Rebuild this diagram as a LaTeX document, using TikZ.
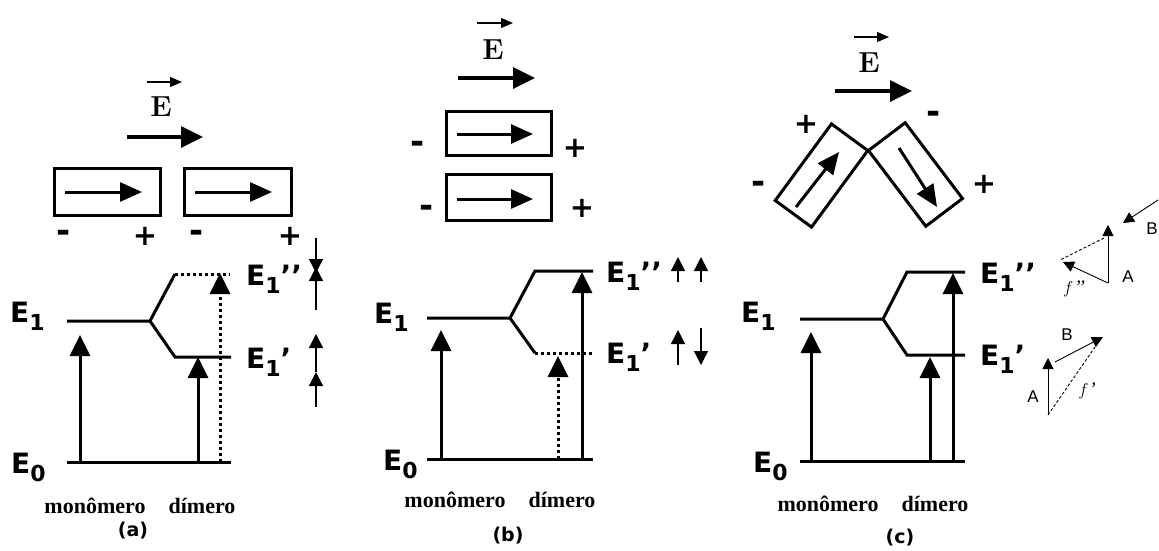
\documentclass[tikz,border=0pt]{standalone}
\usepackage{fontspec}
\newfontfamily\dvs{DejaVu Sans}
\newfontfamily\lsr{Liberation Serif}
\newfontfamily\lss{Liberation Sans}
\usetikzlibrary{arrows.meta}
\newcommand\lvlE[2]{{\dvs\bfseries\fontsize{28}{28}\selectfont E\raisebox{-8pt}{\fontsize{22}{22}\selectfont #1}#2}}
\begin{document}
\begin{tikzpicture}[x=1pt,y=-1pt,
 lvl/.style={line width=3pt},
 dotlvl/.style={line width=3pt,dash pattern=on 3pt off 3pt},
 stem/.style={line width=3pt,-{Triangle[length=21pt,width=20pt]}},
 dotstem/.style={stem,dash pattern=on 3pt off 3pt},
 fieldarr/.style={line width=3.5pt,-{Triangle[length=22pt,width=21pt]}},
 inarr/.style={line width=3pt,-{Triangle[length=22pt,width=19pt]}},
 vecarr/.style={line width=1.2pt,-{Triangle[length=12pt,width=10pt]}},
 spin/.style={line width=1.3pt,-{Triangle[length=14pt,width=14pt]}},
 thinarr/.style={line width=0.9pt,-{Triangle[length=11pt,width=11pt]}},
 dashln/.style={line width=0.9pt,dash pattern=on 3pt off 2pt},
 dipbox/.style={draw,line width=3pt,inner sep=0pt},
 elab/.style={inner sep=0pt,anchor=base west},
 chgp/.style={font=\dvs\bfseries\fontsize{29}{29}\selectfont,inner sep=0pt},
 chgm/.style={font=\dvs\bfseries\fontsize{34}{34}\selectfont,inner sep=0pt},
 evec/.style={font=\bfseries\fontsize{29}{29}\selectfont,inner sep=0pt},
 capt/.style={font=\lsr\bfseries\fontsize{22}{22}\selectfont,inner sep=0pt,anchor=base},
 panel/.style={font=\dvs\bfseries\fontsize{19}{19}\selectfont,inner sep=0pt},
 vlab/.style={font=\lss\fontsize{17}{17}\selectfont,inner sep=0pt},
 flab/.style={font=\lsr\itshape\fontsize{19}{19}\selectfont,inner sep=0pt}]
\useasboundingbox (0,0) rectangle (1159,550);
\fill[white] (0,0) rectangle (1159,550);

% ================= panel (a) =================
\coordinate (aV0) at (147,82); \coordinate (aV1) at (182,82);
\draw[vecarr] (aV0) -- (aV1);
\node[evec] (aE) at (161,107) {E};
\coordinate (aF0) at (127,137); \coordinate (aF1) at (203,137);
\draw[fieldarr] (aF0) -- (aF1);
\node[dipbox,minimum width=106pt,minimum height=47pt] (aB1) at (107.5,192) {};
\node[dipbox,minimum width=107pt,minimum height=47pt] (aB2) at (238,192) {};
\coordinate (aI10) at (65,192); \coordinate (aI11) at (142,192);
\coordinate (aI20) at (195,192); \coordinate (aI21) at (272,192);
\draw[inarr] (aI10) -- (aI11);
\draw[inarr] (aI20) -- (aI21);
\node[chgm] (aM1) at (64,236) {-};
\node[chgp] (aP1) at (145,236) {+};
\node[chgm] (aM2) at (197,236) {-};
\node[chgp] (aP2) at (290,236) {+};

\coordinate (aE1l) at (67,321); \coordinate (aSp) at (150,321);
\coordinate (aUp) at (175,274); \coordinate (aUpr) at (230,274);
\coordinate (aLo) at (175,357); \coordinate (aLor) at (231,357);
\coordinate (aE0l) at (67,462); \coordinate (aE0r) at (231,462);
\draw[lvl] (aE1l) -- (aSp) -- (aUp);
\draw[dotlvl] (aUp) -- (aUpr);
\draw[lvl] (aSp) -- (aLo) -- (aLor);
\draw[lvl] (aE0l) -- (aE0r);
\coordinate (aS0) at (80,462); \coordinate (aS1) at (80,335);
\coordinate (aS2) at (198,462); \coordinate (aS3) at (198,357);
\coordinate (aS4) at (220,462); \coordinate (aS5) at (220,273);
\draw[stem] (aS0) -- (aS1);
\draw[stem] (aS2) -- (aS3);
\draw[dotstem] (aS4) -- (aS5);
\node[elab] (aL1) at (10,322) {\lvlE{1}{}};
\node[elab] (aL0) at (11,473) {\lvlE{0}{}};
\node[elab] (aL2) at (246,285) {\lvlE{1}{’’}};
\node[elab] (aL3) at (246,368) {\lvlE{1}{’}};
\coordinate (aT0) at (316,238); \coordinate (aT1) at (316,273);
\coordinate (aT2) at (316,310); \coordinate (aT3) at (316,267);
\coordinate (aT4) at (316,407); \coordinate (aT5) at (316,372);
\coordinate (aT6) at (316,334);
\draw[spin] (aT0) -- (aT1);
\draw[spin] (aT2) -- (aT3);
\draw[spin] (aT4) -- (aT5);
\draw[spin] (aT5) -- (aT6);
\node[capt] (aMo) at (95,513) {monômero};
\node[capt] (aDi) at (202,513) {dímero};
\node[panel] (aPn) at (133,531) {(a)};

% ================= panel (b) =================
\coordinate (bV0) at (477,23); \coordinate (bV1) at (513,23);
\draw[vecarr] (bV0) -- (bV1);
\node[evec] (bE) at (493,50) {E};
\coordinate (bF0) at (458,78); \coordinate (bF1) at (535,78);
\draw[fieldarr] (bF0) -- (bF1);
\node[dipbox,minimum width=105pt,minimum height=44pt] (bB1) at (499,133.5) {};
\node[dipbox,minimum width=105pt,minimum height=46pt] (bB2) at (499,197.5) {};
\coordinate (bI10) at (457,134); \coordinate (bI11) at (533,134);
\coordinate (bI20) at (457,199); \coordinate (bI21) at (533,199);
\draw[inarr] (bI10) -- (bI11);
\draw[inarr] (bI20) -- (bI21);
\node[chgm] (bM1) at (418,147) {-};
\node[chgp] (bP1) at (575,148) {+};
\node[chgm] (bM2) at (427,211) {-};
\node[chgp] (bP2) at (582,208) {+};

\coordinate (bE1l) at (427,318); \coordinate (bSp) at (510,318);
\coordinate (bUp) at (535,271); \coordinate (bUpr) at (593,271);
\coordinate (bLo) at (535,353); \coordinate (bLor) at (593,353);
\coordinate (bE0l) at (427,459); \coordinate (bE0r) at (593,459);
\draw[lvl] (bE1l) -- (bSp) -- (bUp) -- (bUpr);
\draw[lvl] (bSp) -- (bLo);
\draw[dotlvl] (bLo) -- (bLor);
\draw[lvl] (bE0l) -- (bE0r);
\coordinate (bS0) at (441,459); \coordinate (bS1) at (441,330);
\coordinate (bS2) at (558,459); \coordinate (bS3) at (558,356);
\coordinate (bS4) at (582,459); \coordinate (bS5) at (582,272);
\draw[stem] (bS0) -- (bS1);
\draw[dotstem] (bS2) -- (bS3);
\draw[stem] (bS4) -- (bS5);
\node[elab] (bL1) at (374,323) {\lvlE{1}{}};
\node[elab] (bL0) at (383,470) {\lvlE{0}{}};
\node[elab] (bL2) at (606,282) {\lvlE{1}{’’}};
\node[elab] (bL3) at (606,363) {\lvlE{1}{’}};
\coordinate (bT0) at (678,282); \coordinate (bT1) at (678,257);
\coordinate (bT2) at (701,282); \coordinate (bT3) at (701,257);
\coordinate (bT4) at (678,365); \coordinate (bT5) at (678,330);
\coordinate (bT6) at (701,328); \coordinate (bT7) at (701,365);
\draw[spin] (bT0) -- (bT1);
\draw[spin] (bT2) -- (bT3);
\draw[spin] (bT4) -- (bT5);
\draw[spin] (bT6) -- (bT7);
\node[capt] (bMo) at (455,507) {monômero};
\node[capt] (bDi) at (562,507) {dímero};
\node[panel] (bPn) at (508,536) {(b)};

% ================= panel (c) =================
\coordinate (cV0) at (854,37); \coordinate (cV1) at (889,37);
\draw[vecarr] (cV0) -- (cV1);
\node[evec] (cE) at (869,63) {E};
\coordinate (cF0) at (835,91); \coordinate (cF1) at (912,91);
\draw[fieldarr] (cF0) -- (cF1);
\node[dipbox,minimum width=95pt,minimum height=45pt,rotate=53.7] (cB1) at (821.5,175.5) {};
\node[dipbox,minimum width=95pt,minimum height=46pt,rotate=-52.9] (cB2) at (915.5,174.5) {};
\coordinate (cI10) at (796,207); \coordinate (cI11) at (839,152);
\coordinate (cI20) at (899,148); \coordinate (cI21) at (937,207);
\draw[inarr] (cI10) -- (cI11);
\draw[inarr] (cI20) -- (cI21);
\node[chgp] (cP1) at (806,124) {+};
\node[chgm] (cM1) at (759,187) {-};
\node[chgm] (cM2) at (934,117) {-};
\node[chgp] (cP2) at (984,184) {+};

\coordinate (cE1l) at (800,319); \coordinate (cSp) at (883,319);
\coordinate (cUp) at (907,272); \coordinate (cUpr) at (965,272);
\coordinate (cLo) at (907,355); \coordinate (cLor) at (965,355);
\coordinate (cE0l) at (800,461); \coordinate (cE0r) at (965,461);
\draw[lvl] (cE1l) -- (cSp) -- (cUp) -- (cUpr);
\draw[lvl] (cSp) -- (cLo) -- (cLor);
\draw[lvl] (cE0l) -- (cE0r);
\coordinate (cS0) at (811,461); \coordinate (cS1) at (811,332);
\coordinate (cS2) at (930,461); \coordinate (cS3) at (930,357);
\coordinate (cS4) at (953,461); \coordinate (cS5) at (953,273);
\draw[stem] (cS0) -- (cS1);
\draw[stem] (cS2) -- (cS3);
\draw[stem] (cS4) -- (cS5);
\node[elab] (cL1) at (741,322) {\lvlE{1}{}};
\node[elab] (cL0) at (753,472) {\lvlE{0}{}};
\node[elab] (cL2) at (980,283) {\lvlE{1}{’’}};
\node[elab] (cL3) at (980,365) {\lvlE{1}{’}};

% vector diagrams
\coordinate (uA0) at (1108,283); \coordinate (uA1) at (1108,225);
\coordinate (uB0) at (1158,200); \coordinate (uB1) at (1123,223);
\coordinate (uD0) at (1104,238); \coordinate (uD1) at (1060,260);
\coordinate (uF1) at (1063,262);
\draw[thinarr] (uA0) -- (uA1);
\draw[thinarr] (uB0) -- (uB1);
\draw[dashln] (uD0) -- (uD1);
\draw[thinarr] (uA0) -- (uF1);
\node[vlab] (uA) at (1128,277) {A};
\node[vlab] (uB) at (1152,229) {B};
\node[flab] (uF) at (1074,289) {$f$\kern1pt’’};

\coordinate (lA0) at (1048,415); \coordinate (lA1) at (1048,358);
\coordinate (lB0) at (1055,362); \coordinate (lB1) at (1103,337);
\coordinate (lD1) at (1095,347);
\draw[thinarr] (lA0) -- (lA1);
\draw[thinarr] (lB0) -- (lB1);
\draw[dashln] (lA0) -- (lD1);
\node[vlab] (lA) at (1033,397) {A};
\node[vlab] (lB) at (1067,335) {B};
\node[flab] (lF) at (1087,391) {$f$\kern1pt’};

\node[capt] (cMo) at (828,511) {monômero};
\node[capt] (cDi) at (935,511) {dímero};
\node[panel] (cPn) at (900,538) {(c)};
\end{tikzpicture}
\end{document}
